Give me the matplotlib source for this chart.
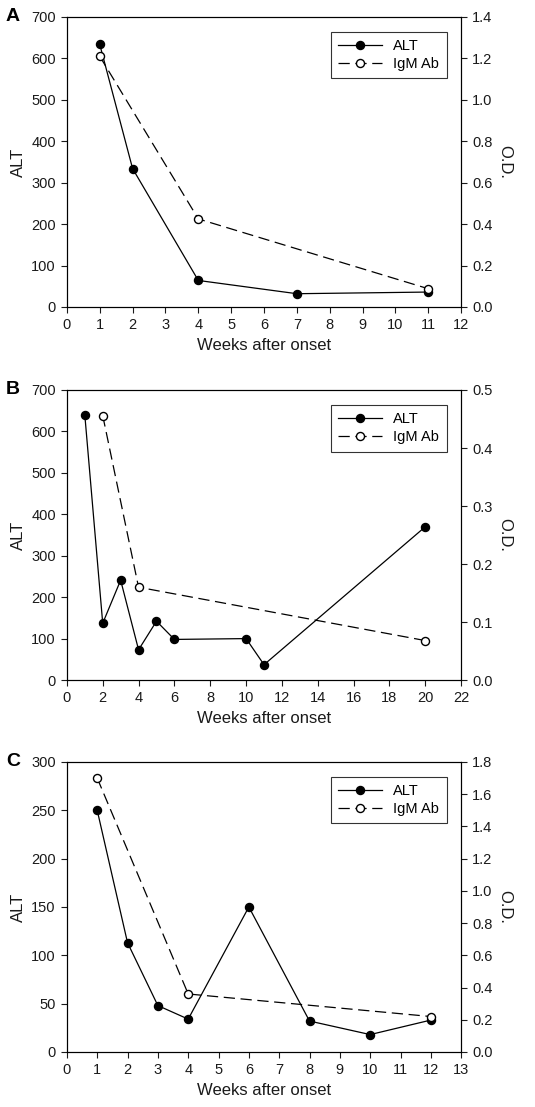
import matplotlib.pyplot as plt
from matplotlib.lines import Line2D

plt.rcParams['font.family'] = ['Liberation Sans', 'DejaVu Sans']

# panel A
a_alt_x = [1, 2, 4, 7, 11]
a_alt_y = [634, 334, 64, 32, 36]
a_igm_x = [1, 4, 11]
a_igm_y = [1.21, 0.425, 0.088]

# panel B
b_alt_x = [1, 2, 3, 4, 5, 6, 10, 11, 20]
b_alt_y = [640, 137, 241, 73, 142, 98, 100, 37, 370]
b_igm_x = [2, 4, 20]
b_igm_y = [0.456, 0.16, 0.068]

# panel C
c_alt_x = [1, 2, 3, 4, 6, 8, 10, 12]
c_alt_y = [250, 113, 48, 34, 150, 32, 18, 33]
c_igm_x = [1, 4, 12]
c_igm_y = [1.70, 0.36, 0.22]

panels = [
    ('A', a_alt_x, a_alt_y, a_igm_x, a_igm_y, 12, 1, 700, 100, 1.4, 0.2),
    ('B', b_alt_x, b_alt_y, b_igm_x, b_igm_y, 22, 2, 700, 100, 0.5, 0.1),
    ('C', c_alt_x, c_alt_y, c_igm_x, c_igm_y, 13, 1, 300, 50, 1.8, 0.2),
]
bottoms = [0.7227, 0.3857, 0.0497]

fig = plt.figure(figsize=(5.35, 11.07), dpi=100)

for (lab, ax_, ay_, ix_, iy_, xmax, xstep, ymax, ystep, omax, ostep), b in zip(panels, bottoms):
    ax = fig.add_axes([0.125, b, 0.737, 0.262])
    ax2 = ax.twinx()
    ax.plot(ax_, ay_, '-', color='black', lw=0.9, marker='o', ms=5.8,
            mfc='black', mec='black', zorder=3)
    ax2.plot(ix_, iy_, color='black', lw=0.9, dashes=(9, 4.5), marker='o', ms=5.8,
             mfc='white', mec='black', zorder=3)
    ax.set_xlim(0, xmax)
    ax.set_ylim(0, ymax)
    ax2.set_ylim(0, omax)
    ax.set_xticks(range(0, xmax + 1, xstep))
    ax.set_yticks(range(0, ymax + 1, ystep))
    n = int(round(omax / ostep))
    oticks = [i * ostep for i in range(n + 1)]
    ax2.set_yticks(oticks)
    ax2.set_yticklabels(['%.1f' % t for t in oticks])
    for a in (ax, ax2):
        a.tick_params(direction='out', length=4.5, width=0.8, labelsize=10.5, colors='#1a1a1a')
        for s in a.spines.values():
            s.set_linewidth(0.8)
    ax.set_xlabel('Weeks after onset', fontsize=12, color='#1a1a1a')
    ax.set_ylabel('ALT', fontsize=12, color='#1a1a1a')
    ax2.set_ylabel('O.D.', fontsize=12, color='#1a1a1a', rotation=270, labelpad=14)
    ax.text(-0.155, 1.0, lab, transform=ax.transAxes, fontsize=14, fontweight='bold',
            va='center', ha='left')
    handles = [
        Line2D([], [], color='black', lw=0.9, marker='o', ms=5.8, mfc='black', mec='black'),
        Line2D([], [], color='black', lw=0.9, dashes=(9, 4.5), marker='o', ms=5.8,
               mfc='white', mec='black'),
    ]
    leg = ax2.legend(handles, ['ALT', 'IgM Ab'], loc='upper right', fontsize=10.5,
                     frameon=True, fancybox=False, edgecolor='black', numpoints=1,
                     handlelength=3.0, borderaxespad=1.0, handletextpad=0.8,
                     labelspacing=0.3, borderpad=0.5)
    leg.get_frame().set_linewidth(0.8)

fig.savefig('out.png', dpi=100)
